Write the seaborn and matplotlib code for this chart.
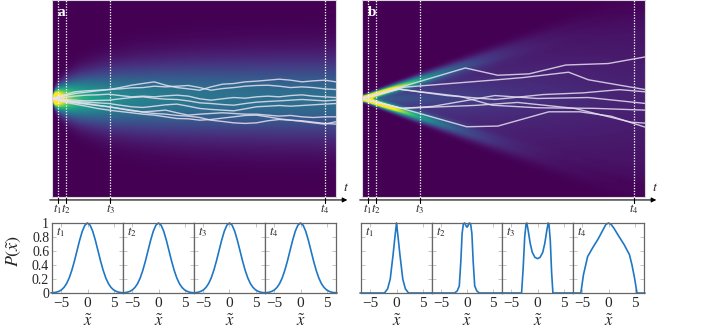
import numpy as np
import matplotlib
matplotlib.use("Agg")
import matplotlib.pyplot as plt
import seaborn as sns
import pandas as pd

sns.set_style("white")
plt.rcParams["font.family"] = ["Liberation Serif", "DejaVu Serif"]
plt.rcParams["mathtext.fontset"] = "stix"

# ---------------- data ----------------
T_END = 100.0
X_HALF = 10.0
t_marks = [2.0, 5.0, 20.5, 96.0]
mark_labels = ["$t_1$", "$t_2$", "$t_3$", "$t_4$"]

# panel a: width of the spreading cloud read at several times
sig_t = [0, 1, 2, 5, 10, 20, 30, 50, 75, 100]
sig_a = [0.05, 0.52, 0.73, 1.13, 1.53, 2.0, 2.27, 2.55, 2.7, 2.76]

# panel b: ballistic ridge speed, ridge width (start, growth), decay time, interior weight
ridge_speed = 0.093
ridge_width0 = 0.15
ridge_width_growth = 0.009
ridge_decay = 30.0
interior_weight = 0.6

# trajectories, panel a (common time grid)
traj_a_t = list(range(0, 101, 4))
traj_a = [
    [0, .34, .68, .78, .84, .91, 1.11, 1.35, 1.52, 1.69, 1.35, 1.11, .98, .84, 1.18, 1.45, 1.52, 1.69, 1.76, 1.86, 1.96, 1.86, 1.69, 1.79, 1.86, 1.69],
    [0, .24, .51, .64, .78, .91, .98, 1.08, 1.11, 1.25, 1.18, 1.25, 1.32, 1.11, .84, 1.01, 1.11, 1.25, 1.32, 1.35, 1.25, 1.11, 1.18, 1.11, .98, .91],
    [0, .10, .24, .34, .37, .44, .30, .17, .24, .17, .27, .34, .24, -.03, -.17, -.03, .10, .03, .17, .24, .17, .30, .37, .24, .17, .10],
    [0, -.10, -.17, -.24, -.20, -.17, -.03, .10, .17, .03, -.07, -.10, -.24, -.44, -.51, -.61, -.68, -.51, -.37, -.30, -.24, -.17, -.10, -.17, -.24, -.17],
    [0, -.17, -.30, -.37, -.44, -.51, -.68, -.84, -.91, -.78, -.64, -.57, -.78, -1.01, -1.11, -1.18, -1.25, -1.05, -.84, -.78, -.71, -.78, -.71, -.64, -.57, -.51],
    [0, -.24, -.44, -.57, -.71, -.84, -1.05, -1.25, -1.35, -1.28, -1.18, -1.45, -1.69, -1.59, -1.52, -1.45, -1.52, -1.59, -1.59, -1.69, -1.79, -1.72, -1.86, -1.93, -1.86, -1.86],
    [0, -.34, -.57, -.78, -1.01, -1.18, -1.32, -1.45, -1.59, -1.69, -1.86, -2.03, -2.06, -2.20, -2.13, -1.99, -1.86, -1.72, -1.69, -1.86, -2.06, -2.20, -2.33, -2.47, -2.60, -2.36],
    [0, -.17, -.37, -.51, -.68, -.84, -1.01, -1.18, -1.39, -1.52, -1.59, -1.72, -1.79, -1.93, -2.20, -2.33, -2.47, -2.53, -2.47, -2.26, -2.13, -2.20, -2.26, -2.40, -2.53, -2.60],
]

# trajectories, panel b (run-and-tumble waypoints: time list, position list)
traj_b_t = [
    [0, 36.5, 48, 59, 72, 87, 100],
    [0, 15, 46, 57, 73, 80, 100],
    [0, 13, 30, 47, 64, 78, 91, 100],
    [0, 13, 35, 46, 62, 82, 100],
    [0, 14, 25, 47, 62, 80, 100],
    [0, 14, 37, 48, 66, 77, 88, 100],
    [0, 14, 40, 55, 75, 95, 100],
]
traj_b_x = [
    [0, 3.1, 2.36, 2.5, 3.4, 3.55, 4.22],
    [0, 1.15, 1.86, 2.13, 2.67, 1.9, 0.91],
    [0, 0.95, 0.3, -0.1, 0.4, 0.57, 0.9, 0.68],
    [0, 0.95, 0.2, -0.68, -0.94, -1.0, -1.18],
    [0, -1.0, -0.8, 0.3, 0.0, 0.1, -0.5],
    [0, -1.0, -2.87, -2.8, -1.35, -1.35, -1.8, -2.9],
    [0, -1.0, -0.7, -0.4, -1.0, -2.4, -2.5],
]

# bottom panels: rescaled distributions
pa_x = [-7, -6.5, -6, -5.5, -5, -4.5, -4, -3.5, -3, -2.5, -2, -1.5, -1, -0.5, 0,
        0.5, 1, 1.5, 2, 2.5, 3, 3.5, 4, 4.5, 5, 5.5, 6, 6.5, 7]
pa_p = [0.002, 0.005, 0.011, 0.023, 0.044, 0.080, 0.135, 0.216, 0.325, 0.458, 0.607, 0.755, 0.882, 0.969, 1.0,
        0.969, 0.882, 0.755, 0.607, 0.458, 0.325, 0.216, 0.135, 0.080, 0.044, 0.023, 0.011, 0.005, 0.002]

pb1_x = [-7, -2.3, -1.7, -1.2, -0.65, -0.3, 0, 0.3, 0.65, 1.2, 1.7, 2.3, 7]
pb1_p = [0, 0, 0.06, 0.2, 0.55, 0.8, 1.0, 0.8, 0.55, 0.2, 0.06, 0, 0]
pb2_x = [-7, -2.4, -1.9, -1.5, -1.2, -0.95, -0.7, -0.45, -0.2, 0, 0.2, 0.45, 0.7, 0.95, 1.2, 1.5, 1.9, 2.4, 7]
pb2_p = [0, 0, 0.03, 0.1, 0.45, 0.85, 0.99, 1.0, 0.96, 0.94, 0.96, 1.0, 0.99, 0.85, 0.45, 0.1, 0.03, 0, 0]
pb3_x = [-7, -3.05, -2.75, -2.45, -2.2, -2.05, -1.8, -1.4, -1.0, -0.5, 0, 0.5, 1.0, 1.4, 1.8, 2.05, 2.2, 2.45, 2.7, 2.95, 7]
pb3_p = [0, 0, 0.35, 0.8, 0.98, 1.0, 0.9, 0.71, 0.58, 0.51, 0.49, 0.51, 0.58, 0.71, 0.9, 1.0, 0.98, 0.75, 0.3, 0, 0]
pb4_x = [-7, -5.3, -4.8, -4.0, -3.0, -2.0, -1.0, -0.5, 0, 0.5, 1.0, 1.9, 3.0, 4.0, 4.5, 5.0, 5.45, 7]
pb4_p = [0, 0, 0.26, 0.52, 0.65, 0.77, 0.91, 0.98, 1.0, 0.98, 0.93, 0.82, 0.69, 0.55, 0.4, 0.21, 0, 0]

profiles_a = [(pa_x, pa_p)] * 4
profiles_b = [(pb1_x, pb1_p), (pb2_x, pb2_p), (pb3_x, pb3_p), (pb4_x, pb4_p)]

# ---------------- figure ----------------
W, H = 707, 334
fig = plt.figure(figsize=(W / 100, H / 100), dpi=100)


def fx(px):
    return px / W


def fy_from_top(py):
    return 1 - py / H


tt = np.linspace(0, T_END, 700)
xx = np.linspace(-X_HALF, X_HALF, 500)
TT, XX = np.meshgrid(tt, xx)

# field a
sig = np.interp(tt, sig_t, sig_a)[None, :]
field_a = np.exp(-XX ** 2 / (2 * sig ** 2)) / sig

# field b
w = ridge_width0 + ridge_width_growth * TT
ridge = np.exp(-TT / ridge_decay) / 2 * (
    np.exp(-(XX - ridge_speed * TT) ** 2 / (2 * w ** 2)) +
    np.exp(-(XX + ridge_speed * TT) ** 2 / (2 * w ** 2))) / (np.sqrt(2 * np.pi) * w)
edge = ridge_speed * np.maximum(TT, 1e-3)
shape = np.interp(XX / edge * 5.45, pb4_x, pb4_p)
norm_int = np.trapezoid(pb4_p, pb4_x) / 5.45
interior = interior_weight * (1 - np.exp(-TT / ridge_decay)) * shape / (edge * norm_int)
field_b = ridge + interior

top_axes = []
for left_px, right_px, field, vmax, label in [
        (52, 336, field_a, 1.0, "a"), (362, 645, field_b, 0.52, "b")]:
    ax = fig.add_axes([fx(left_px), fy_from_top(197), fx(right_px - left_px), 197 / H])
    ax.imshow(field, origin="lower", aspect="auto", cmap="viridis", vmin=0, vmax=vmax,
              extent=[0, T_END, -X_HALF, X_HALF], interpolation="bilinear")
    ax.set_xlim(0, T_END)
    ax.set_ylim(-X_HALF, X_HALF)
    for s in ax.spines.values():
        s.set_color("#d8d8d8")
        s.set_linewidth(0.8)
    for t in t_marks:
        ax.axvline(t, color="white", ls=(0, (1, 1.2)), lw=0.9)
    ax.text(0.02, 0.935, label, transform=ax.transAxes, color="white",
            fontsize=11, fontweight="bold", va="center", ha="left")
    # time axis with arrow
    ax.annotate("", xy=(1.04, -0.015), xytext=(-0.008, -0.015), xycoords="axes fraction",
                textcoords="axes fraction",
                arrowprops=dict(arrowstyle="-|>", color="black", lw=0.8, mutation_scale=7,
                                shrinkA=0, shrinkB=0))
    for t, lab in zip(t_marks, mark_labels):
        ax.plot([t, t], [-0.03, 0.0], color="black", lw=0.8, clip_on=False,
                transform=ax.get_xaxis_transform())
        ax.text(t, -0.06, lab, transform=ax.get_xaxis_transform(), ha="center", va="center",
                fontsize=9)
    ax.text(1.035, 0.05, "$t$", transform=ax.transAxes, fontsize=10, ha="center", va="center")
    top_axes.append(ax)

# trajectories
traj_color = "#e6e0f0"
ax = top_axes[0]
for xs in traj_a:
    df = pd.DataFrame({"t": traj_a_t, "x": xs})
    sns.lineplot(data=df, x="t", y="x", ax=ax, color=traj_color, lw=1.0, alpha=0.85,
                 sort=False, estimator=None)
ax = top_axes[1]
for ts, xs in zip(traj_b_t, traj_b_x):
    df = pd.DataFrame({"t": ts, "x": xs})
    sns.lineplot(data=df, x="t", y="x", ax=ax, color=traj_color, lw=1.0, alpha=0.85,
                 sort=False, estimator=None)
for ax in top_axes:
    ax.set_xlabel("")
    ax.set_ylabel("")
    ax.set_xticks([])
    ax.set_yticks([])

# bottom panels
curve_color = "#1f77c4"
groups = [([52, 123, 194, 265, 336], profiles_a), ([361, 432, 502, 573, 644], profiles_b)]
for gi, (edges, profs) in enumerate(groups):
    for k in range(4):
        l, r = edges[k], edges[k + 1]
        ax = fig.add_axes([fx(l), fy_from_top(293), fx(r - l), 70 / H])
        px, pp = profs[k]
        df = pd.DataFrame({"x": px, "p": pp})
        sns.lineplot(data=df, x="x", y="p", ax=ax, color=curve_color, lw=1.2,
                     sort=False, estimator=None, clip_on=False)
        ax.set_xlim(-6.8, 6.8)
        ax.set_ylim(0, 1)
        ax.set_xticks([-5, 0, 5])
        ax.set_xticklabels(["\u22125", "0", "5"], fontsize=11)
        ax.set_yticks([0, 0.2, 0.4, 0.6, 0.8, 1.0])
        if gi == 0 and k == 0:
            ax.set_yticklabels(["0", "0.2", "0.4", "0.6", "0.8", "1"], fontsize=10)
        else:
            ax.set_yticklabels([])
        ax.tick_params(axis="both", which="both", direction="in", length=3, width=0.6,
                       color="#bbbbbb", top=True, right=True, left=True, bottom=True)
        ax.tick_params(axis="x", pad=3)
        ax.tick_params(axis="y", pad=2)
        for s in ax.spines.values():
            s.set_color("#666666")
            s.set_linewidth(0.9)
        ax.set_xlabel(r"$\tilde{x}$", fontsize=12, labelpad=3)
        ax.set_ylabel("")
        ax.text(0.06, 0.87, mark_labels[k], transform=ax.transAxes, fontsize=9,
                ha="left", va="center")

fig.text(fx(14), fy_from_top(251), r"$P(\tilde{x})$", rotation=90, fontsize=13,
         ha="center", va="center")

fig.savefig("out.png", dpi=100)
